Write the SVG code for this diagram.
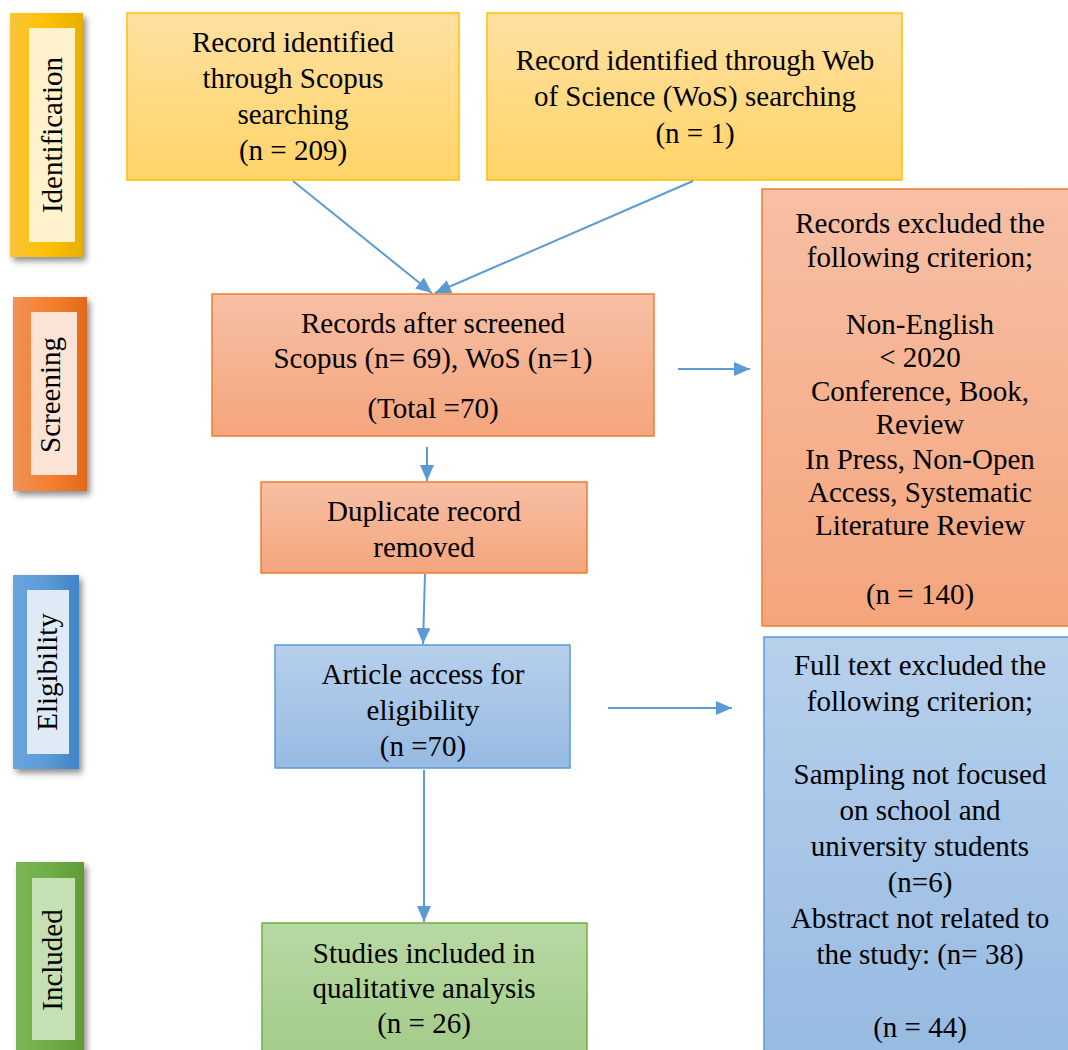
<svg xmlns="http://www.w3.org/2000/svg" width="1068" height="1050" viewBox="0 0 1068 1050">
<defs>
<style>
text{font-family:"Liberation Serif","Times New Roman",serif;font-size:29px;fill:#000;text-anchor:middle}
.conn line{stroke:#5b9bd5;stroke-width:2;fill:none}
</style>
<filter id="sh" x="-30%" y="-10%" width="170%" height="130%">
<feDropShadow dx="3" dy="4" stdDeviation="3" flood-color="#000" flood-opacity="0.45"/>
</filter>
<marker id="ah" markerUnits="userSpaceOnUse" markerWidth="18" markerHeight="14" refX="16" refY="7" orient="auto">
<path d="M0,0 L16,7 L0,14 Z" fill="#5b9bd5"/>
</marker>
<linearGradient id="gy" x1="0" y1="0" x2="1" y2="0"><stop offset="0" stop-color="#f9c53d"/><stop offset="0.5" stop-color="#ffc000"/><stop offset="1" stop-color="#e4b000"/></linearGradient>
<linearGradient id="go" x1="0" y1="0" x2="1" y2="0"><stop offset="0" stop-color="#f09258"/><stop offset="0.5" stop-color="#f5802f"/><stop offset="1" stop-color="#e06a1a"/></linearGradient>
<linearGradient id="gb" x1="0" y1="0" x2="1" y2="0"><stop offset="0" stop-color="#6aa5dd"/><stop offset="0.5" stop-color="#5b9bd5"/><stop offset="1" stop-color="#3f84c8"/></linearGradient>
<linearGradient id="gg" x1="0" y1="0" x2="1" y2="0"><stop offset="0" stop-color="#7ab656"/><stop offset="0.5" stop-color="#70ad47"/><stop offset="1" stop-color="#5e9b37"/></linearGradient>
<linearGradient id="fy" x1="0" y1="0" x2="0" y2="1"><stop offset="0" stop-color="#ffe0a0"/><stop offset="1" stop-color="#ffd468"/></linearGradient>
<linearGradient id="fo" x1="0" y1="0" x2="0" y2="1"><stop offset="0" stop-color="#f7bfa5"/><stop offset="1" stop-color="#f4a57c"/></linearGradient>
<linearGradient id="fb" x1="0" y1="0" x2="0" y2="1"><stop offset="0" stop-color="#b7d0ec"/><stop offset="1" stop-color="#97bae2"/></linearGradient>
<linearGradient id="fg" x1="0" y1="0" x2="0" y2="1"><stop offset="0" stop-color="#b8d8a4"/><stop offset="1" stop-color="#a2cb87"/></linearGradient>
</defs>
<rect width="1068" height="1050" fill="#fff"/>

<g id="stage-identification">
<rect x="10" y="13" width="73" height="244" fill="url(#gy)" filter="url(#sh)"/>
<rect x="29" y="28" width="46" height="214" fill="#fff2cc"/>
<text transform="translate(62,135) rotate(-90)">Identification</text>
</g>
<g id="stage-screening">
<rect x="13" y="297" width="74" height="194" fill="url(#go)" filter="url(#sh)"/>
<rect x="31" y="312" width="46" height="163" fill="#fbe4d5"/>
<text transform="translate(60,395) rotate(-90)">Screening</text>
</g>
<g id="stage-eligibility">
<rect x="13" y="575" width="66" height="194" fill="url(#gb)" filter="url(#sh)"/>
<rect x="27" y="590" width="42" height="164" fill="#deebf7"/>
<text transform="translate(57,672) rotate(-90)">Eligibility</text>
</g>
<g id="stage-included">
<rect x="16" y="862" width="68" height="200" fill="url(#gg)" filter="url(#sh)"/>
<rect x="32" y="878" width="43" height="162" fill="#c5e0b4"/>
<text transform="translate(62,960) rotate(-90)">Included</text>
</g>

<g id="scopus">
<rect x="127" y="13" width="332" height="167" fill="url(#fy)" stroke="#ffc000" stroke-width="1.5"/>
<text x="293" y="52">Record identified</text>
<text x="293" y="88">through Scopus</text>
<text x="293" y="124">searching</text>
<text x="293" y="160">(n = 209)</text>
</g>
<g id="wos">
<rect x="487" y="13" width="415" height="167" fill="url(#fy)" stroke="#ffc000" stroke-width="1.5"/>
<text x="695" y="70">Record identified through Web</text>
<text x="695" y="106">of Science (WoS) searching</text>
<text x="695" y="143">(n = 1)</text>
</g>
<g id="screened">
<rect x="212" y="294" width="442" height="142" fill="url(#fo)" stroke="#ed7d31" stroke-width="1.5"/>
<text x="433" y="333">Records after screened</text>
<text x="433" y="368">Scopus (n= 69), WoS (n=1)</text>
<text x="433" y="418">(Total =70)</text>
</g>
<g id="excluded">
<rect x="762" y="189" width="310" height="437" fill="url(#fo)" stroke="#ed7d31" stroke-width="1.5"/>
<text x="920" y="233">Records excluded the</text>
<text x="920" y="267">following criterion;</text>
<text x="920" y="334">Non-English</text>
<text x="920" y="367">&lt; 2020</text>
<text x="920" y="401">Conference, Book,</text>
<text x="920" y="434">Review</text>
<text x="920" y="469">In Press, Non-Open</text>
<text x="920" y="502">Access, Systematic</text>
<text x="920" y="535">Literature Review</text>
<text x="920" y="604">(n = 140)</text>
</g>
<g id="duplicate">
<rect x="261" y="482" width="326" height="91" fill="url(#fo)" stroke="#ed7d31" stroke-width="1.5"/>
<text x="424" y="521">Duplicate record</text>
<text x="424" y="557">removed</text>
</g>
<g id="eligibility">
<rect x="275" y="645" width="295" height="123" fill="url(#fb)" stroke="#5b9bd5" stroke-width="1.5"/>
<text x="423" y="684">Article access for</text>
<text x="423" y="720">eligibility</text>
<text x="423" y="756">(n =70)</text>
</g>
<g id="fulltext">
<rect x="764" y="637" width="308" height="420" fill="url(#fb)" stroke="#5b9bd5" stroke-width="1.5"/>
<text x="920" y="675">Full text excluded the</text>
<text x="920" y="711">following criterion;</text>
<text x="920" y="784">Sampling not focused</text>
<text x="920" y="820">on school and</text>
<text x="920" y="856">university students</text>
<text x="920" y="892">(n=6)</text>
<text x="920" y="928">Abstract not related to</text>
<text x="920" y="964">the study: (n= 38)</text>
<text x="920" y="1037">(n = 44)</text>
</g>
<g id="included">
<rect x="262" y="923" width="325" height="140" fill="url(#fg)" stroke="#70ad47" stroke-width="1.5"/>
<text x="424" y="963">Studies included in</text>
<text x="424" y="998">qualitative analysis</text>
<text x="424" y="1033">(n = 26)</text>
</g>

<g id="connectors" class="conn">
<line x1="293" y1="181" x2="432" y2="293" marker-end="url(#ah)"/>
<line x1="693" y1="181" x2="435" y2="293" marker-end="url(#ah)"/>
<line x1="678" y1="369" x2="750" y2="369" marker-end="url(#ah)"/>
<line x1="427" y1="447" x2="427" y2="481" marker-end="url(#ah)"/>
<line x1="425" y1="574" x2="423" y2="644" marker-end="url(#ah)"/>
<line x1="608" y1="708" x2="732" y2="708" marker-end="url(#ah)"/>
<line x1="424" y1="770" x2="424" y2="922" marker-end="url(#ah)"/>
</g>
</svg>
